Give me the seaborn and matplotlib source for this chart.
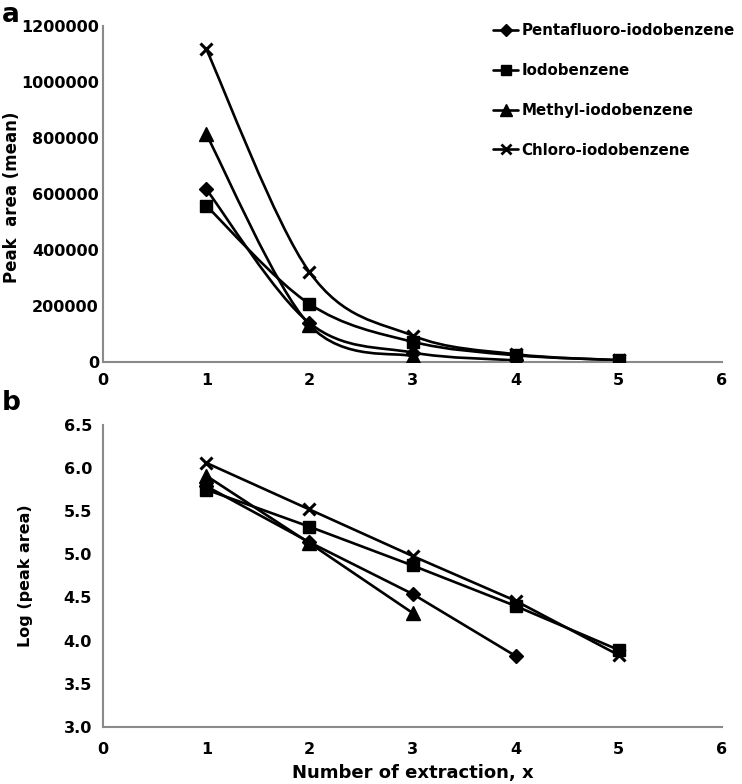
import numpy as np
import seaborn as sns
import matplotlib
matplotlib.use("Agg")
import matplotlib.pyplot as plt
from matplotlib.path import Path
from matplotlib.patches import PathPatch
from matplotlib.lines import Line2D

# data
compounds = ["Pentafluoro-iodobenzene", "Iodobenzene", "Methyl-iodobenzene", "Chloro-iodobenzene"]
markers = ["D", "s", "^", "x"]
marker_sizes = [7, 8.5, 9.5, 9]

extraction = [1, 2, 3, 4, 5]

# panel a: mean peak area
area_penta = [617000, 140000, 34500, 6600]
area_iodo = [558000, 208000, 73000, 24800, 7700]
area_methyl = [813000, 133000, 21000]
area_chloro = [1117000, 322000, 95000, 28500, 6700]

# panel b: log of peak area
log_penta = [5.79, 5.14, 4.54, 3.82]
log_iodo = [5.75, 5.32, 4.87, 4.40, 3.89]
log_methyl = [5.91, 5.13, 4.32]
log_chloro = [6.06, 5.52, 4.98, 4.46, 3.83]

area_series = [area_penta, area_iodo, area_methyl, area_chloro]
log_series = [log_penta, log_iodo, log_methyl, log_chloro]

sns.set_style("white")
plt.rcParams["font.family"] = ["DejaVu Sans"]
plt.rcParams["font.weight"] = "bold"
plt.rcParams["text.color"] = "black"
plt.rcParams["axes.labelcolor"] = "black"
plt.rcParams["xtick.labelcolor"] = "black"
plt.rcParams["ytick.labelcolor"] = "black"

SPINE = "#8a8a8a"
LW = 1.9


def smooth_path(xs, ys):
    # Excel-style smoothed line: Catmull-Rom segments as cubic Bezier curves
    pts = np.column_stack([xs, ys]).astype(float)
    n = len(pts)
    verts = [pts[0]]
    codes = [Path.MOVETO]
    for i in range(n - 1):
        p0 = pts[i - 1] if i > 0 else pts[i]
        p1 = pts[i]
        p2 = pts[i + 1]
        p3 = pts[i + 2] if i + 2 < n else pts[i + 1]
        c1 = p1 + (p2 - p0) / 6.0
        c2 = p2 - (p3 - p1) / 6.0
        verts += [c1, c2, p2]
        codes += [Path.CURVE4] * 3
    return Path(verts, codes)


fig = plt.figure(figsize=(7.42, 7.84), dpi=100)
ax1 = fig.add_axes([0.139, 0.538, 0.834, 0.429])
ax2 = fig.add_axes([0.139, 0.073, 0.834, 0.385])

# ---- panel a ----
for vals, mk, ms in zip(area_series, markers, marker_sizes):
    xs = extraction[:len(vals)]
    ax1.add_patch(PathPatch(smooth_path(xs, vals), facecolor="none",
                            edgecolor="black", lw=LW, zorder=2))
    mew = 2.2 if mk == "x" else 1
    sns.lineplot(x=xs, y=vals, ax=ax1, marker=mk, markersize=ms, linestyle="",
                 color="black", markeredgecolor="black", markeredgewidth=mew,
                 zorder=3)

ax1.set_xlim(0, 6)
ax1.set_ylim(0, 1200000)
ax1.set_xticks(range(0, 7))
ax1.set_yticks(range(0, 1200001, 200000))
ax1.set_yticklabels([str(v) for v in range(0, 1200001, 200000)])
ax1.tick_params(axis="both", length=0, labelsize=11.5, pad=8)
ax1.tick_params(axis="y", pad=3)
ax1.set_ylabel("Peak  area (mean)", fontsize=12, fontweight="bold")
ax1.yaxis.set_label_coords(-0.133, 0.49)
ax1.set_xlabel("")

handles = []
for lab, mk, ms in zip(compounds, markers, marker_sizes):
    mew = 2 if mk == "x" else 1
    handles.append(Line2D([0], [0], color="black", lw=LW, marker=mk,
                          markersize=ms * 0.85, markeredgewidth=mew, label=lab))
ax1.legend(handles=handles, loc="upper left", bbox_to_anchor=(0.62, 1.025),
           frameon=False, fontsize=10.8, handlelength=1.7, handletextpad=0.2,
           labelspacing=1.65, borderaxespad=0)

# ---- panel b ----
for vals, mk, ms in zip(log_series, markers, marker_sizes):
    xs = extraction[:len(vals)]
    mew = 2.2 if mk == "x" else 1
    sns.lineplot(x=xs, y=vals, ax=ax2, marker=mk, markersize=ms, color="black",
                 lw=LW, markeredgecolor="black", markeredgewidth=mew)

ax2.set_xlim(0, 6)
ax2.set_ylim(3.0, 6.5)
ax2.set_xticks(range(0, 7))
ax2.set_yticks(np.arange(3.0, 6.51, 0.5))
ax2.set_yticklabels([f"{v:.1f}" for v in np.arange(3.0, 6.51, 0.5)])
ax2.tick_params(axis="both", direction="out", length=5, width=1.2,
                color=SPINE, labelsize=11.5, pad=6)
ax2.tick_params(axis="y", pad=3)
ax2.set_ylabel("Log (peak area)", fontsize=11.5, fontweight="bold", labelpad=22)
ax2.set_xlabel("Number of extraction, x", fontsize=13, fontweight="bold",
               labelpad=5)

for ax in (ax1, ax2):
    sns.despine(ax=ax)
    for side in ("left", "bottom"):
        ax.spines[side].set_color(SPINE)
        ax.spines[side].set_linewidth(1.5)
    for lab in ax.get_xticklabels() + ax.get_yticklabels():
        lab.set_fontweight("bold")

fig.text(0.003, 0.998, "a", fontsize=19, fontweight="bold", va="top", ha="left")
fig.text(0.003, 0.503, "b", fontsize=19, fontweight="bold", va="top", ha="left")

fig.savefig("out.png", dpi=100)
plt.close(fig)
